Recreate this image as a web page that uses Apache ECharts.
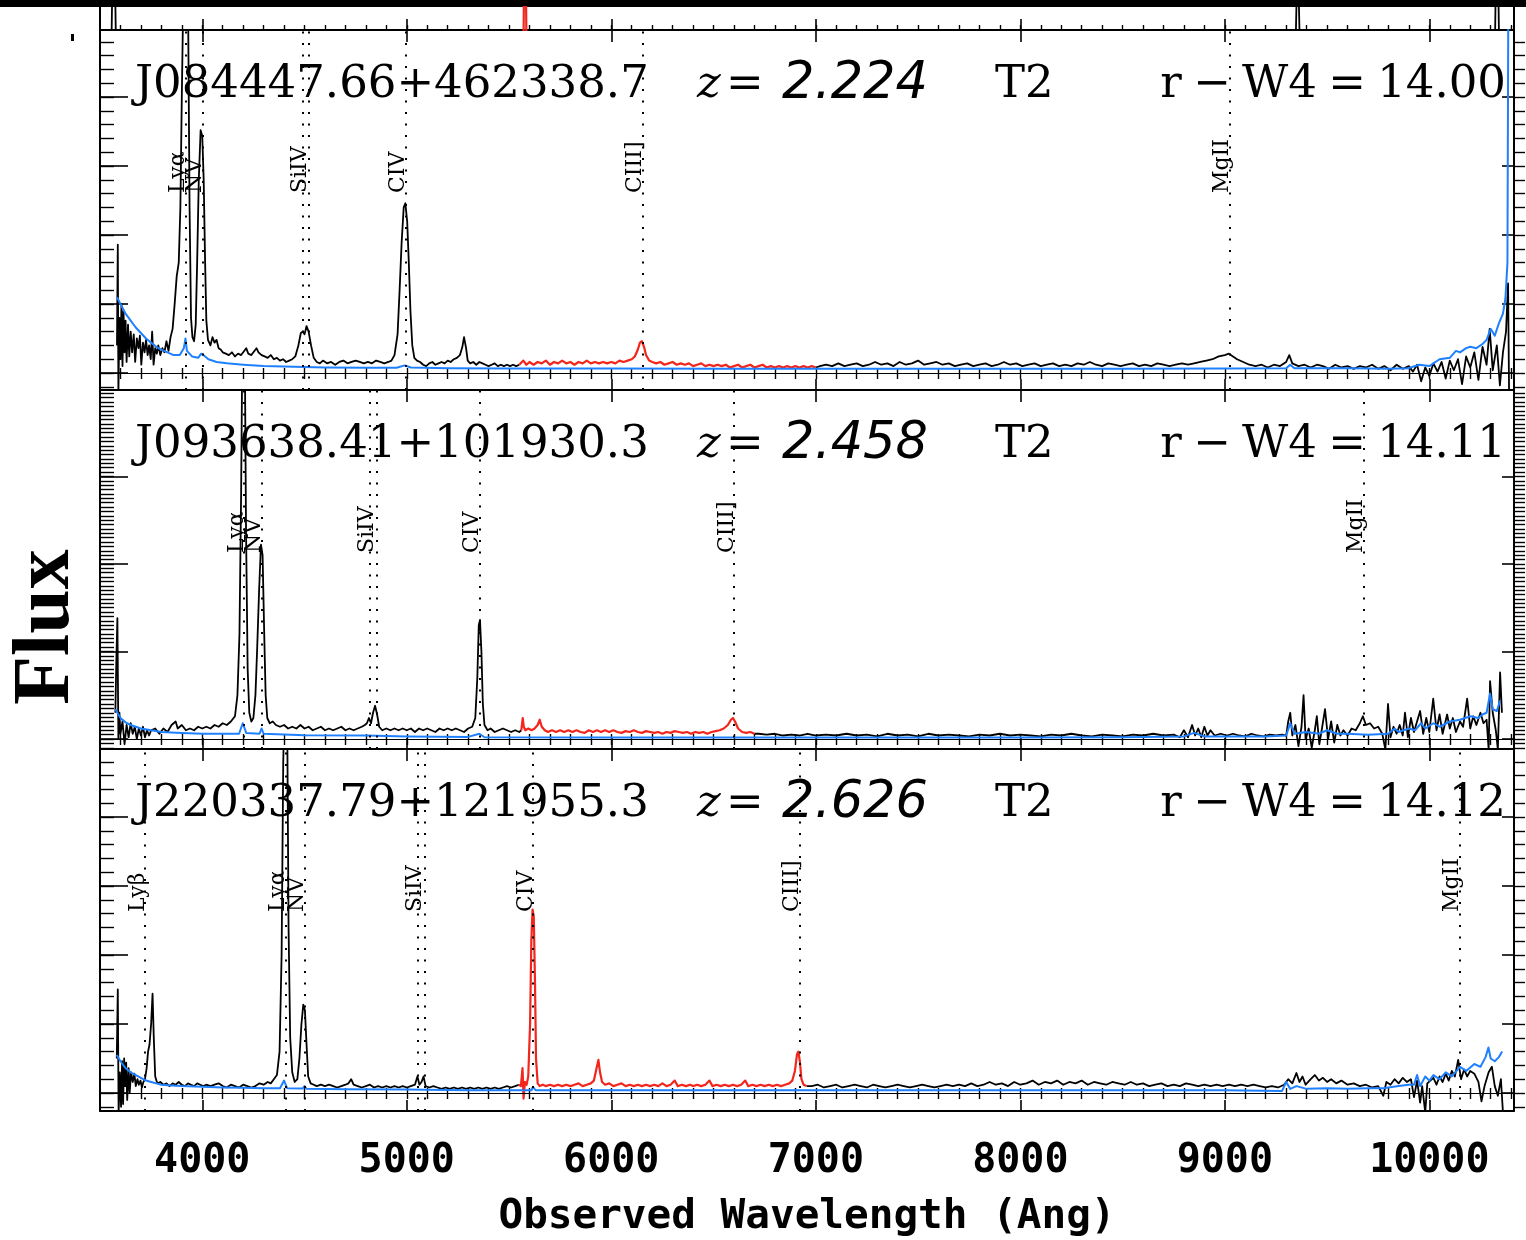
<!DOCTYPE html>
<html><head><meta charset="utf-8">
<script src="https://cdn.jsdelivr.net/npm/echarts@6/dist/echarts.min.js"></script>
<style>html,body{margin:0;padding:0;background:#fff}#c{width:1526px;height:1240px}</style>
</head><body><div id="c"></div>
<script>
// ---------------- DATA ----------------
const redshifts = [2.224, 2.458, 2.626];
const objNames = ['J084447.66+462338.7', 'J093638.41+101930.3', 'J220337.79+121955.3'];
const objTypes = ['T2', 'T2', 'T2'];
const rW4 = ['14.00', '14.11', '14.12'];
const xTickLabels = [4000, 5000, 6000, 7000, 8000, 9000, 10000];
const lineRest = [1025.72, 1215.67, 1240.81, 1393.76, 1402.77, 1549.06, 1908.73, 2798.75];
const labelNames = ['Lyβ', 'Lyα', 'NV', 'SiIV', 'CIV', 'CIII]', 'MgII'];
const labelRest = [1025.72, 1215.67, 1240.81, 1400.0, 1549.06, 1908.73, 2798.75];

// panel above (cut off)
const stripBlack = [[3555,0],[3567,12],[3579,0],[9345,0],[9356,8],[9368,0],[10320,0],[10331,12],[10342,0]];
const stripRed = [[5570,0],[5578,12],[5586,0]];

// Panel 1
const p1BlackA = [[3583,2.0],[3587,9.3],[3590,-1.5],[3595,4.0],[3600,1.0],[3605,5.0],[3610,0.5],[3615,4.5],[3620,1.5],[3625,3.8],[3630,0.8],[3637,3.5],[3643,1.2],[3650,3.0],[3657,1.5],[3665,2.8],[3672,0.8],[3680,2.5],[3688,1.8],[3695,2.7],[3702,0.6],[3710,2.2],[3718,1.5],[3725,2.4],[3733,1.3],[3740,2.0],[3748,1.0],[3755,3.0],[3762,0.6],[3770,1.8],[3778,1.4],[3785,2.0],[3795,1.3],[3805,1.8],[3815,1.5],[3825,2.3],[3835,1.6],[3845,2.6],[3855,3.2],[3865,5.0],[3875,7.0],[3885,8.0],[3893,12],[3900,20],[3908,28],[3920,30],[3930,28],[3938,12],[3945,4],[3952,2.6],[3960,2.3],[3968,3.5],[3975,8.0],[3983,14.0],[3992,17.6],[4000,17.2],[4007,14.0],[4014,8.0],[4020,3.8],[4028,2.4],[4040,2.0],[4050,2.6],[4060,2.2],[4070,2.4],[4080,1.8],[4090,1.7],[4100,1.5],[4115,1.4],[4130,1.3],[4145,1.5],[4160,1.2],[4175,1.4],[4190,1.3],[4205,1.6],[4215,1.8],[4225,1.4],[4240,1.3],[4255,1.6],[4265,1.8],[4275,1.5],[4290,1.3],[4305,1.2],[4320,1.1],[4335,1.3],[4350,1.0],[4365,1.1],[4380,0.9],[4395,1.0],[4410,0.8],[4425,0.9],[4440,1.0],[4455,1.2],[4470,2.0],[4482,2.9],[4492,3.0],[4500,2.8],[4510,3.4],[4520,3.0],[4532,2.0],[4545,1.1],[4560,0.8],[4575,0.7],[4590,0.9],[4610,0.7],[4630,0.8],[4650,0.6],[4670,0.8],[4690,0.9],[4710,0.7],[4730,0.8],[4750,0.9],[4770,0.8],[4790,0.7],[4810,0.8],[4830,0.7],[4850,0.9],[4870,0.8],[4890,0.7],[4910,0.8],[4925,0.9],[4940,1.3],[4955,2.8],[4965,6.0],[4975,9.5],[4985,12.0],[4993,12.3],[5002,11.0],[5010,8.0],[5018,4.5],[5027,2.0],[5037,1.1],[5050,0.9],[5065,0.8],[5080,0.6],[5095,0.5],[5110,0.7],[5125,0.8],[5140,0.6],[5155,0.7],[5170,0.8],[5185,0.7],[5200,0.9],[5215,0.8],[5230,1.0],[5245,1.1],[5260,1.3],[5272,1.9],[5280,2.6],[5290,1.8],[5298,0.9],[5310,0.7],[5325,0.8],[5340,0.6],[5355,0.8],[5370,0.7],[5385,0.6],[5400,0.5],[5415,0.6],[5430,0.7],[5445,0.5],[5460,0.6],[5475,0.5],[5490,0.6],[5505,0.5],[5520,0.6],[5535,0.5],[5550,0.6]];
const p1Red = [[5550,0.6],[5570,0.9],[5585,0.6],[5600,0.8],[5620,0.6],[5640,0.8],[5660,0.7],[5680,0.9],[5700,0.6],[5720,0.8],[5740,0.7],[5760,0.9],[5780,0.7],[5800,0.8],[5820,0.6],[5840,0.8],[5860,0.7],[5880,0.9],[5900,0.7],[5920,0.8],[5940,0.7],[5960,0.8],[5980,0.7],[6000,0.8],[6020,0.7],[6040,0.9],[6060,0.8],[6080,0.9],[6100,1.0],[6115,1.2],[6130,1.7],[6140,2.2],[6150,2.3],[6160,1.9],[6170,1.3],[6185,0.9],[6200,0.8],[6220,0.7],[6240,0.8],[6260,0.6],[6280,0.7],[6300,0.8],[6320,0.6],[6340,0.7],[6360,0.6],[6380,0.7],[6400,0.5],[6420,0.6],[6440,0.7],[6460,0.5],[6480,0.6],[6500,0.5],[6520,0.6],[6540,0.5],[6560,0.6],[6580,0.4],[6600,0.5],[6620,0.6],[6640,0.4],[6660,0.5],[6680,0.6],[6700,0.4],[6720,0.5],[6740,0.6],[6760,0.4],[6780,0.5],[6800,0.4],[6820,0.5],[6840,0.4],[6860,0.5],[6880,0.4],[6900,0.5],[6920,0.4],[6940,0.5],[6960,0.4],[6980,0.5],[7000,0.4]];
const p1BlackB = [[7000,0.4],[7020,0.5],[7050,0.6],[7080,0.5],[7110,0.7],[7140,0.5],[7170,0.6],[7200,0.7],[7230,0.5],[7260,0.6],[7290,0.8],[7320,0.6],[7350,0.7],[7380,0.5],[7410,0.8],[7440,0.6],[7470,0.7],[7500,0.9],[7530,0.6],[7560,0.7],[7590,0.8],[7620,0.6],[7650,0.7],[7680,0.5],[7710,0.6],[7740,0.7],[7770,0.5],[7800,0.6],[7830,0.7],[7860,0.5],[7890,0.6],[7920,0.8],[7950,0.6],[7980,0.7],[8010,0.5],[8040,0.6],[8070,0.7],[8100,0.5],[8130,0.6],[8160,0.7],[8190,0.5],[8220,0.6],[8250,0.5],[8280,0.7],[8310,0.6],[8340,0.8],[8370,0.6],[8400,0.5],[8430,0.7],[8460,0.6],[8490,0.5],[8520,0.6],[8550,0.7],[8580,0.5],[8610,0.6],[8640,0.5],[8670,0.7],[8700,0.6],[8730,0.5],[8760,0.6],[8790,0.7],[8820,0.6],[8850,0.7],[8880,0.8],[8910,0.9],[8940,1.0],[8970,1.2],[9000,1.3],[9020,1.4],[9040,1.2],[9060,1.0],[9090,0.8],[9120,0.6],[9150,0.5],[9180,0.6],[9210,0.4],[9240,0.6],[9270,0.5],[9300,0.8],[9315,1.3],[9330,0.7],[9360,0.5],[9390,0.6],[9420,0.4],[9450,0.6],[9480,0.5],[9510,0.3],[9540,0.6],[9570,0.4],[9600,0.5],[9630,0.3],[9660,0.5],[9690,0.4],[9720,0.6],[9750,0.3],[9780,0.5],[9810,0.2],[9840,0.6],[9870,0.3],[9900,0.5],[9920,0.1],[9940,0.6],[9960,-0.6],[9980,0.4],[10000,-0.2],[10020,0.7],[10040,0.1],[10060,0.8],[10080,-0.4],[10100,0.9],[10120,0.2],[10140,1.0],[10160,-0.8],[10180,1.2],[10200,0.4],[10220,1.5],[10240,-0.5],[10260,1.9],[10280,0.6],[10295,3.2],[10310,0.2],[10330,2.0],[10345,-0.9],[10360,1.5],[10375,3.0],[10385,6.5],[10390,-1.5]];
const p1Blue = [[3583,5.5],[3600,5.0],[3625,4.3],[3650,3.8],[3675,3.3],[3700,2.9],[3725,2.5],[3750,2.2],[3775,1.9],[3800,1.7],[3830,1.5],[3860,1.3],[3890,1.3],[3910,1.8],[3918,2.5],[3925,1.6],[3950,1.2],[3980,1.1],[3995,1.4],[4005,1.3],[4030,1.0],[4070,0.8],[4120,0.7],[4200,0.6],[4300,0.5],[4450,0.45],[4600,0.4],[4800,0.38],[4950,0.38],[4990,0.55],[5020,0.4],[5200,0.35],[5500,0.33],[6000,0.32],[6500,0.3],[7000,0.3],[7500,0.3],[8000,0.3],[8500,0.3],[9000,0.32],[9300,0.35],[9320,0.6],[9340,0.35],[9600,0.35],[9800,0.3],[9900,0.35],[9950,0.6],[10000,0.5],[10050,1.0],[10100,1.1],[10130,1.6],[10150,1.5],[10180,1.8],[10200,1.9],[10230,1.8],[10260,2.1],[10280,2.4],[10300,3.2],[10320,2.7],[10340,3.6],[10360,4.3],[10372,5.4],[10382,8],[10386,26]];

// Panel 2
const p2BlackA = [[3575,1.5],[3580,4.5],[3585,6.9],[3590,0.0],[3595,1.5],[3600,0.3],[3610,1.0],[3620,-0.3],[3630,0.8],[3640,0.1],[3650,0.9],[3660,0.3],[3670,0.7],[3680,0.0],[3690,0.6],[3700,0.2],[3710,0.7],[3720,0.1],[3730,0.5],[3740,0.2],[3750,0.5],[3770,0.6],[3790,0.3],[3810,0.6],[3830,0.4],[3850,0.8],[3870,1.0],[3880,0.6],[3900,0.8],[3920,0.5],[3940,0.6],[3960,0.5],[3980,0.7],[4000,0.6],[4020,0.7],[4040,0.6],[4060,0.8],[4080,0.7],[4100,0.9],[4120,0.8],[4140,1.0],[4160,1.3],[4172,2.5],[4182,6.0],[4190,14],[4197,24],[4207,24],[4214,12],[4222,4],[4230,1.5],[4240,1.0],[4250,1.2],[4260,2.5],[4268,5],[4278,8.5],[4287,11.1],[4295,10.5],[4303,6],[4310,2.5],[4318,1.2],[4330,0.9],[4345,1.0],[4360,0.8],[4380,0.7],[4400,0.8],[4420,0.6],[4440,0.7],[4460,0.6],[4480,0.8],[4500,0.6],[4520,0.7],[4540,0.5],[4560,0.6],[4580,0.7],[4600,0.5],[4620,0.6],[4640,0.5],[4660,0.6],[4680,0.7],[4700,0.5],[4720,0.6],[4740,0.5],[4760,0.6],[4780,0.7],[4795,0.8],[4805,0.9],[4815,1.2],[4825,0.9],[4835,1.5],[4845,1.9],[4855,1.4],[4865,0.7],[4880,0.5],[4900,0.6],[4920,0.5],[4940,0.6],[4960,0.5],[4980,0.6],[5000,0.5],[5020,0.6],[5040,0.4],[5060,0.6],[5080,0.5],[5100,0.6],[5120,0.5],[5140,0.4],[5160,0.6],[5180,0.5],[5200,0.6],[5220,0.5],[5240,0.6],[5260,0.5],[5280,0.4],[5300,0.6],[5320,0.7],[5335,1.2],[5345,3.5],[5352,6.5],[5358,6.8],[5365,5.0],[5372,2.0],[5380,0.8],[5395,0.5],[5410,0.6],[5430,0.4],[5450,0.5],[5470,0.6],[5490,0.5],[5510,0.4],[5530,0.5],[5550,0.4],[5560,0.5]];
const p2Red = [[5560,0.5],[5567,1.2],[5572,0.7],[5580,0.5],[5595,0.6],[5610,0.5],[5625,0.6],[5640,0.8],[5650,1.1],[5660,0.7],[5675,0.5],[5690,0.4],[5710,0.5],[5730,0.4],[5750,0.5],[5770,0.4],[5790,0.5],[5810,0.4],[5830,0.5],[5850,0.4],[5870,0.35],[5890,0.5],[5910,0.4],[5930,0.5],[5950,0.4],[5970,0.5],[5990,0.4],[6010,0.5],[6030,0.4],[6050,0.35],[6070,0.45],[6090,0.4],[6110,0.5],[6130,0.4],[6150,0.35],[6170,0.45],[6190,0.4],[6210,0.35],[6230,0.4],[6250,0.3],[6270,0.4],[6290,0.35],[6310,0.45],[6330,0.4],[6350,0.35],[6370,0.4],[6390,0.3],[6410,0.4],[6430,0.35],[6450,0.4],[6470,0.3],[6490,0.4],[6510,0.45],[6530,0.5],[6550,0.6],[6570,0.8],[6585,1.1],[6595,1.2],[6605,1.0],[6620,0.6],[6640,0.4],[6660,0.35],[6680,0.4],[6700,0.3]];
const p2BlackB = [[6700,0.3],[6720,0.3],[6760,0.25],[6800,0.3],[6840,0.2],[6880,0.25],[6920,0.2],[6960,0.3],[7000,0.2],[7050,0.25],[7100,0.2],[7150,0.3],[7200,0.2],[7250,0.25],[7300,0.15],[7350,0.3],[7400,0.2],[7450,0.25],[7500,0.15],[7550,0.3],[7600,0.2],[7650,0.25],[7700,0.2],[7750,0.15],[7800,0.25],[7850,0.2],[7900,0.3],[7950,0.2],[8000,0.25],[8050,0.2],[8100,0.15],[8150,0.25],[8200,0.2],[8250,0.3],[8300,0.2],[8350,0.15],[8400,0.25],[8450,0.2],[8500,0.15],[8550,0.25],[8600,0.2],[8650,0.3],[8700,0.2],[8750,0.25],[8780,0.1],[8800,0.5],[8820,0.1],[8840,0.8],[8855,0.2],[8870,0.6],[8885,0.1],[8900,0.7],[8915,0.2],[8930,0.5],[8950,0.2],[8980,0.3],[9010,0.2],[9040,0.3],[9070,0.2],[9100,0.15],[9130,0.3],[9160,0.2],[9190,0.15],[9220,0.25],[9250,0.2],[9280,0.25],[9300,0.2],[9310,1.0],[9320,1.5],[9330,0.2],[9345,0.8],[9360,-0.4],[9375,0.7],[9385,2.5],[9395,0.0],[9410,0.6],[9425,-0.5],[9440,0.5],[9450,1.3],[9462,-0.3],[9475,0.6],[9490,1.7],[9505,0.0],[9520,1.0],[9535,-0.2],[9550,0.8],[9565,0.2],[9580,0.5],[9600,0.2],[9620,0.6],[9640,0.5],[9660,0.9],[9675,1.3],[9690,0.8],[9710,0.9],[9730,0.6],[9750,0.7],[9770,0.3],[9785,-0.6],[9798,2.0],[9810,0.1],[9825,0.7],[9840,0.3],[9855,0.8],[9870,0.2],[9881,1.5],[9895,0.1],[9910,1.2],[9925,0.4],[9940,1.0],[9955,1.6],[9970,0.3],[9985,1.2],[10000,0.4],[10019,2.3],[10035,0.5],[10050,1.4],[10065,0.3],[10087,1.4],[10100,0.6],[10115,1.2],[10130,0.4],[10150,1.0],[10165,0.7],[10185,2.3],[10200,0.6],[10215,1.3],[10230,0.8],[10250,1.5],[10265,0.9],[10280,1.1],[10290,-0.6],[10297,3.3],[10310,1.5],[10325,0.5],[10335,-0.6],[10346,3.8],[10355,1.5]];
const p2Blue = [[3575,1.7],[3600,1.2],[3625,0.95],[3650,0.8],[3700,0.6],[3750,0.5],[3800,0.4],[3900,0.35],[4000,0.3],[4100,0.3],[4180,0.3],[4198,0.9],[4215,0.35],[4280,0.3],[4290,0.6],[4300,0.3],[4500,0.22],[4800,0.2],[5000,0.15],[5300,0.12],[5355,0.3],[5380,0.1],[6000,0.08],[7000,0.08],[8000,0.08],[8500,0.1],[8800,0.15],[8850,0.35],[8900,0.15],[9200,0.15],[9300,0.2],[9320,0.9],[9340,0.3],[9400,0.4],[9460,0.3],[9500,0.5],[9550,0.3],[9600,0.3],[9700,0.25],[9800,0.3],[9830,0.6],[9850,0.4],[9900,0.6],[9930,0.5],[9960,0.9],[9980,0.6],[10020,0.9],[10050,0.7],[10100,1.0],[10150,1.1],[10200,1.3],[10240,1.2],[10260,1.4],[10280,1.5],[10297,2.6],[10310,1.7],[10330,1.6],[10346,2.2]];

// Panel 3
const p3BlackA = [[3582,2.5],[3587,7.5],[3591,-1.5],[3597,1.5],[3603,-1.0],[3608,2.3],[3613,-0.8],[3618,2.5],[3623,0.5],[3628,2.2],[3633,-0.5],[3640,1.8],[3645,0.0],[3652,1.5],[3660,0.8],[3668,1.4],[3675,0.5],[3683,1.0],[3690,0.6],[3698,0.9],[3705,0.4],[3712,0.8],[3720,1.0],[3728,1.8],[3735,3.0],[3742,3.5],[3750,5.0],[3757,7.2],[3763,4.0],[3770,1.2],[3780,0.7],[3795,0.8],[3810,0.6],[3825,0.7],[3840,0.5],[3855,0.7],[3870,0.6],[3885,0.8],[3900,0.6],[3915,0.5],[3930,0.7],[3945,0.6],[3960,0.5],[3975,0.7],[3990,0.6],[4005,0.5],[4020,0.6],[4040,0.5],[4060,0.6],[4080,0.7],[4100,0.5],[4120,0.4],[4140,0.6],[4160,0.5],[4180,0.4],[4200,0.6],[4220,0.5],[4240,0.4],[4260,0.5],[4280,0.7],[4300,0.6],[4320,0.8],[4335,0.7],[4350,1.0],[4365,1.3],[4378,3],[4388,10],[4396,24],[4405,30],[4415,28],[4422,12],[4430,4],[4440,1.5],[4452,0.8],[4465,1.0],[4475,2.5],[4485,5.0],[4494,6.4],[4502,6.0],[4510,3.5],[4518,1.2],[4530,0.7],[4545,0.6],[4560,0.5],[4580,0.6],[4600,0.5],[4620,0.6],[4640,0.5],[4660,0.4],[4680,0.5],[4700,0.6],[4715,0.7],[4728,1.0],[4740,0.6],[4760,0.5],[4780,0.4],[4800,0.5],[4820,0.6],[4840,0.4],[4860,0.5],[4880,0.4],[4900,0.5],[4920,0.4],[4940,0.5],[4960,0.4],[4980,0.5],[5000,0.4],[5020,0.5],[5040,0.6],[5052,1.2],[5062,0.6],[5072,0.8],[5082,1.2],[5092,0.5],[5110,0.4],[5130,0.5],[5150,0.4],[5170,0.3],[5190,0.4],[5210,0.3],[5230,0.4],[5250,0.3],[5270,0.4],[5290,0.3],[5310,0.4],[5330,0.3],[5350,0.4],[5370,0.3],[5390,0.4],[5410,0.3],[5430,0.4],[5450,0.3],[5470,0.4],[5490,0.5],[5510,0.4],[5530,0.5],[5548,0.6]];
const p3Red = [[5548,0.6],[5558,0.5],[5566,1.8],[5571,-0.4],[5578,0.8],[5586,0.6],[5594,1.2],[5603,5.0],[5609,11.0],[5615,13.3],[5621,12.8],[5627,8.0],[5632,2.5],[5640,0.7],[5650,0.5],[5665,0.6],[5680,0.5],[5700,0.6],[5720,0.5],[5740,0.6],[5760,0.5],[5780,0.6],[5800,0.5],[5820,0.6],[5840,0.7],[5860,0.5],[5880,0.6],[5900,0.7],[5915,0.9],[5928,1.8],[5937,2.4],[5945,1.5],[5955,0.8],[5970,0.6],[5990,0.7],[6010,0.5],[6030,0.6],[6050,0.7],[6070,0.5],[6090,0.6],[6110,0.5],[6130,0.6],[6150,0.5],[6170,0.6],[6190,0.5],[6210,0.6],[6230,0.5],[6250,0.7],[6270,0.5],[6290,0.6],[6310,0.9],[6325,0.5],[6345,0.6],[6365,0.5],[6385,0.6],[6400,0.5],[6420,0.6],[6440,0.5],[6460,0.6],[6480,0.9],[6495,0.5],[6515,0.6],[6535,0.5],[6555,0.6],[6575,0.5],[6595,0.6],[6615,0.5],[6635,0.6],[6655,0.9],[6670,0.5],[6690,0.6],[6710,0.5],[6730,0.6],[6750,0.5],[6770,0.6],[6790,0.5],[6810,0.6],[6830,0.5],[6850,0.6],[6870,0.7],[6885,0.9],[6898,1.6],[6908,2.8],[6915,3.0],[6922,2.3],[6930,1.0],[6940,0.6],[6955,0.5]];
const p3BlackB = [[6955,0.5],[6980,0.5],[7010,0.6],[7040,0.4],[7070,0.5],[7100,0.6],[7130,0.4],[7160,0.5],[7190,0.6],[7220,0.5],[7250,0.4],[7280,0.6],[7310,0.5],[7340,0.4],[7370,0.5],[7400,0.6],[7430,0.5],[7460,0.4],[7490,0.5],[7520,0.6],[7550,0.5],[7580,0.4],[7610,0.5],[7640,0.6],[7670,0.5],[7700,0.6],[7730,0.5],[7760,0.7],[7790,0.5],[7820,0.6],[7850,0.8],[7880,0.6],[7910,0.7],[7940,0.5],[7970,0.8],[8000,0.6],[8030,0.7],[8060,0.9],[8090,0.6],[8120,0.8],[8150,0.7],[8180,0.9],[8210,0.6],[8240,0.8],[8270,0.7],[8300,0.9],[8330,0.6],[8360,0.8],[8390,0.7],[8420,0.6],[8450,0.8],[8480,0.7],[8510,0.6],[8540,0.8],[8570,0.6],[8600,0.7],[8630,0.5],[8660,0.6],[8690,0.7],[8720,0.5],[8750,0.6],[8780,0.5],[8810,0.7],[8840,0.6],[8870,0.5],[8900,0.6],[8930,0.5],[8960,0.6],[8990,0.5],[9020,0.6],[9050,0.5],[9080,0.6],[9110,0.5],[9140,0.6],[9170,0.5],[9200,0.4],[9230,0.5],[9260,0.4],[9290,0.6],[9310,1.0],[9330,0.7],[9350,1.45],[9365,0.8],[9380,1.2],[9395,0.6],[9420,1.0],[9440,1.3],[9460,0.9],[9480,1.1],[9500,0.8],[9520,1.0],[9545,0.7],[9570,0.9],[9600,0.6],[9630,0.7],[9660,0.5],[9690,0.6],[9720,0.4],[9750,0.5],[9775,-0.2],[9790,0.8],[9810,0.6],[9830,1.0],[9850,0.7],[9870,1.1],[9890,0.8],[9910,1.0],[9925,-0.3],[9940,0.9],[9955,-0.7],[9965,0.5],[9980,-1.4],[9990,0.7],[10005,0.9],[10020,1.1],[10035,0.6],[10050,1.2],[10065,0.8],[10080,1.4],[10095,0.9],[10110,1.6],[10125,1.2],[10141,2.4],[10155,1.0],[10170,1.7],[10185,1.2],[10200,1.6],[10220,1.4],[10240,0.8],[10255,-0.6],[10270,0.5],[10290,1.5],[10306,1.9],[10320,0.5],[10335,-0.2],[10350,1.0],[10360,-1.4]];
const p3Blue = [[3582,2.75],[3600,2.3],[3625,1.8],[3650,1.5],[3675,1.3],[3700,1.1],[3725,0.9],[3750,0.8],[3775,0.7],[3800,0.6],[3850,0.55],[3900,0.5],[4000,0.45],[4100,0.4],[4200,0.38],[4300,0.35],[4380,0.35],[4400,0.9],[4415,0.35],[4490,0.32],[4500,0.5],[4510,0.3],[4700,0.28],[5000,0.25],[5300,0.2],[5500,0.2],[5610,0.2],[5617,0.45],[5630,0.2],[6000,0.2],[6500,0.2],[7000,0.2],[7500,0.2],[8000,0.2],[8500,0.2],[9000,0.2],[9280,0.15],[9300,0.8],[9320,0.3],[9350,0.5],[9400,0.3],[9500,0.35],[9600,0.3],[9700,0.35],[9775,0.35],[9850,0.5],[9900,0.6],[9925,0.6],[9940,1.3],[9955,0.5],[9980,1.2],[10000,0.9],[10020,1.3],[10050,1.0],[10080,1.5],[10110,1.2],[10150,1.9],[10180,1.6],[10220,2.1],[10250,1.9],[10275,2.6],[10289,3.3],[10300,2.5],[10320,2.3],[10340,2.6],[10356,3.0]];

// ---------------- LAYOUT / STYLE ----------------
const BLACK = '#000', RED = '#f2261c', BLUE = '#1f80ff';
const X_MIN = 3500, X_MAX = 10414, GL = 100, GW = 1414;
function range(a, b, s) { const o = []; for (let v = Math.ceil(a / s - 1e-9) * s; v <= b + 1e-9; v += s) o.push(+v.toFixed(4)); return o; }
const xMinor = range(3600, 10400, 100);

const grids = [
  {top: 7, height: 23, yMin: 2, yMax: 3.667, strip: true},
  {top: 30, height: 360, yMin: -1.232, yMax: 24.86, yMajor: [0,5,10,15,20], yStep: 1},
  {top: 390, height: 359, yMin: -0.571, yMax: 19.94, yMajor: [0,5,10,15], yStep: 0.25},
  {top: 749, height: 362, yMin: -1.304, yMax: 24.93, yMajor: [0,5,10,15,20], yStep: 1}
];
const spectra = [
  {black: p1BlackA.concat([[5551,'-']], p1BlackB), red: p1Red, blue: p1Blue},
  {black: p2BlackA.concat([[5561,'-']], p2BlackB), red: p2Red, blue: p2Blue},
  {black: p3BlackA.concat([[5549,'-']], p3BlackB), red: p3Red, blue: p3Blue}
];

const xAxes = [], yAxes = [], series = [];
const mainIdx = [];
const axisFont = '"DejaVu Sans Mono", monospace';
grids.forEach((g, gi) => {
  const base = {type: 'value', gridIndex: gi, min: X_MIN, max: X_MAX, splitLine: {show: false}, axisLabel: {show: false}};
  const line = {show: true, onZero: false, lineStyle: {color: BLACK, width: 2}};
  const xi = xAxes.length;
  const bottomMajor = Object.assign({}, base, {position: 'bottom', axisLine: line,
    axisTick: {show: true, inside: true, length: 11, customValues: xTickLabels, lineStyle: {color: BLACK, width: 1.6}}});
  if (gi === 3) {
    bottomMajor.axisLabel = {show: true, customValues: xTickLabels, formatter: v => String(v), color: BLACK,
      fontFamily: axisFont, fontWeight: 'bold', fontSize: 40, margin: 31};
    bottomMajor.name = 'Observed Wavelength (Ang)';
    bottomMajor.nameLocation = 'middle';
    bottomMajor.nameGap = 86;
    bottomMajor.nameTextStyle = {color: BLACK, fontFamily: axisFont, fontWeight: 'bold', fontSize: 41};
  }
  xAxes.push(bottomMajor);
  xAxes.push(Object.assign({}, base, {position: 'bottom', axisLine: {show: false},
    axisTick: {show: true, inside: true, length: 5, customValues: xMinor, lineStyle: {color: BLACK, width: 1.4}}}));
  if (!g.strip) {
    xAxes.push(Object.assign({}, base, {position: 'top', axisLine: line,
      axisTick: {show: true, inside: true, length: 12, customValues: xTickLabels, lineStyle: {color: BLACK, width: 1.6}}}));
    xAxes.push(Object.assign({}, base, {position: 'top', axisLine: {show: false},
      axisTick: {show: true, inside: true, length: 6, customValues: xMinor, lineStyle: {color: BLACK, width: 1.4}}}));
  }
  const yi = yAxes.length;
  const ybase = {type: 'value', gridIndex: gi, min: g.yMin, max: g.yMax, splitLine: {show: false}, axisLabel: {show: false}};
  if (g.strip) {
    yAxes.push(Object.assign({}, ybase, {position: 'left', axisLine: line, axisTick: {show: false}}));
    yAxes.push(Object.assign({}, ybase, {position: 'right', axisLine: line, axisTick: {show: false}}));
  } else {
    const yMinorT = range(g.yMin, g.yMax, g.yStep);
    yAxes.push(Object.assign({}, ybase, {position: 'left', axisLine: line,
      axisTick: {show: true, inside: true, length: 28, customValues: g.yMajor, lineStyle: {color: BLACK, width: 1.6}}}));
    yAxes.push(Object.assign({}, ybase, {position: 'left', axisLine: {show: false},
      axisTick: {show: true, inside: true, length: 14, customValues: yMinorT, lineStyle: {color: BLACK, width: 1.4}}}));
    yAxes.push(Object.assign({}, ybase, {position: 'right', axisLine: line,
      axisTick: {show: true, inside: true, length: 12, customValues: g.yMajor, lineStyle: {color: BLACK, width: 1.6}}}));
    yAxes.push(Object.assign({}, ybase, {position: 'right', axisLine: {show: false},
      axisTick: {show: true, inside: false, length: 11, customValues: yMinorT, lineStyle: {color: BLACK, width: 1.4}}}));
  }
  mainIdx.push({xi, yi});
});

function lineSeries(gi, data, color, width, z, extra) {
  return Object.assign({type: 'line', xAxisIndex: mainIdx[gi].xi, yAxisIndex: mainIdx[gi].yi, data,
    showSymbol: false, symbol: 'none', clip: true, silent: true, z,
    lineStyle: {color, width, join: 'round'}}, extra || {});
}
series.push(lineSeries(0, stripBlack, BLACK, 1.8, 2));
series.push(lineSeries(0, stripRed, RED, 2.2, 3));

spectra.forEach((s, k) => {
  const gi = k + 1, zz = redshifts[k];
  const obs = lineRest.map(r => r * (1 + zz)).filter(w => w > 3560 && w < 10400);
  series.push(lineSeries(gi, s.black, BLACK, 1.8, 2, {
    markLine: {silent: true, symbol: ['none', 'none'], label: {show: false}, animation: false,
      data: obs.map(w => ({xAxis: w, lineStyle: {type: [2, 9.5], color: BLACK, width: 2}}))
        .concat([{yAxis: 0, lineStyle: {type: 'solid', color: BLACK, width: 1.2}}])}
  }));
  series.push(lineSeries(gi, s.red, RED, 2.2, 3));
  series.push(lineSeries(gi, s.blue, BLUE, 2.0, 4));
});

const chart = echarts.init(document.getElementById('c'), null, {renderer: 'canvas'});
chart.setOption({
  animation: false,
  backgroundColor: '#fff',
  grid: grids.map(g => ({left: GL, width: GW, top: g.top, height: g.height, containLabel: false})),
  xAxis: xAxes, yAxis: yAxes, series
});

// ---------------- TEXT (positions from the library's scales) ----------------
const graphics = [
  {type: 'rect', shape: {x: 0, y: 0, width: 1526, height: 7}, style: {fill: BLACK}},
  {type: 'rect', shape: {x: 71, y: 34, width: 3, height: 7}, style: {fill: BLACK}},
  {type: 'text', x: 47, y: 627, rotation: Math.PI / 2,
    style: {text: 'Flux', font: 'bold 80px "Liberation Serif", serif', fill: BLACK, textAlign: 'center', textVerticalAlign: 'middle'}}
];
const serif = '"DejaVu Serif", serif';
[0, 1, 2].forEach(k => {
  const g = grids[k + 1];
  const cy = g.top + 55;
  graphics.push({type: 'text', x: 135, y: cy, z: 10, style: {text: objNames[k], font: '45px ' + serif, fill: BLACK, textAlign: 'left', textVerticalAlign: 'middle'}});
  graphics.push({type: 'text', x: 697, y: cy, z: 10, style: {text: 'z', font: 'italic 45px ' + serif, fill: BLACK, textAlign: 'left', textVerticalAlign: 'middle'}});
  graphics.push({type: 'text', x: 726, y: cy, z: 10, style: {text: '=', font: '45px ' + serif, fill: BLACK, textAlign: 'left', textVerticalAlign: 'middle'}});
  graphics.push({type: 'text', x: 782, y: cy, z: 10, style: {text: redshifts[k].toFixed(3), font: 'italic 51px "DejaVu Sans", sans-serif', fill: BLACK, textAlign: 'left', textVerticalAlign: 'middle'}});
  graphics.push({type: 'text', x: 995, y: cy, z: 10, style: {text: objTypes[k], font: '45px ' + serif, fill: BLACK, textAlign: 'left', textVerticalAlign: 'middle'}});
  graphics.push({type: 'text', x: 1506, y: cy, z: 10, style: {text: 'r\u2005\u2212\u2005W4\u2005=\u2005' + rW4[k], font: '45px ' + serif, fill: BLACK, textAlign: 'right', textVerticalAlign: 'middle'}});
  // line labels
  labelRest.forEach((r, j) => {
    const w = r * (1 + redshifts[k]);
    if (w < 3560 || w > 10400) return;
    const px = chart.convertToPixel({xAxisIndex: mainIdx[k + 1].xi, yAxisIndex: mainIdx[k + 1].yi}, [w, 0]);
    graphics.push({type: 'text', x: px[0] + 4, y: g.top + 163, rotation: Math.PI / 2, z: 10,
      style: {text: labelNames[j], font: '22px ' + serif, fill: BLACK, textAlign: 'left', textVerticalAlign: 'bottom'}});
  });
});
chart.setOption({graphic: {elements: graphics}});
</script></body></html>
